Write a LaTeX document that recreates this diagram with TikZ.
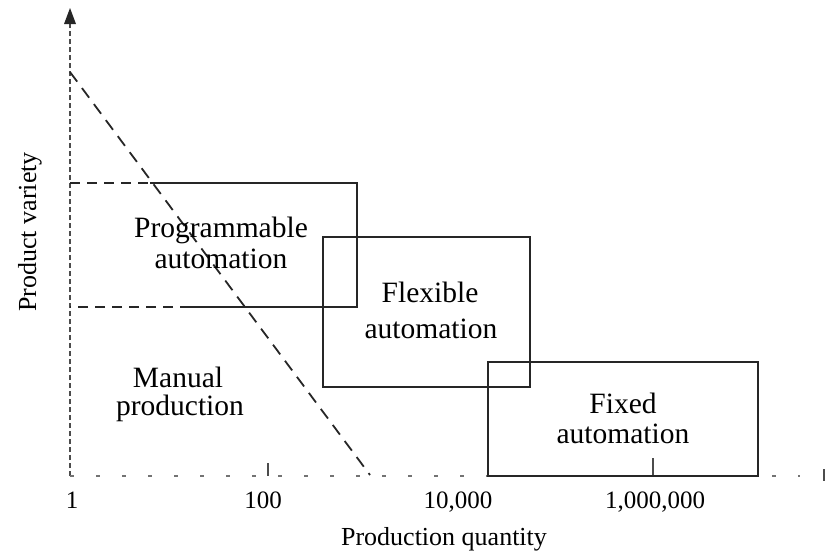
\documentclass[tikz,border=0pt]{standalone}
\usepackage{fontspec}
\setmainfont{Liberation Serif}
\usetikzlibrary{arrows.meta}
\tikzset{
  boxline/.style={line width=1.8pt, black!85},
  dashline/.style={line width=1.8pt, black!85, dash pattern=on 10pt off 7pt},
  yaxis/.style={line width=1.4pt, black!70, dash pattern=on 5pt off 3pt},
  xaxis/.style={line width=1.4pt, black!55, dash pattern=on 4pt off 22pt},
  boxtext/.style={font=\fontsize{29.5}{30}\selectfont, anchor=base, inner sep=0pt},
  ticktext/.style={font=\fontsize{25}{26}\selectfont, anchor=base, inner sep=0pt},
  axistext/.style={font=\fontsize{26}{27}\selectfont, anchor=base, inner sep=0pt},
}
\begin{document}
\begin{tikzpicture}[x=1pt, y=-1pt]
\useasboundingbox (0,0) rectangle (827,552);

% axes
\coordinate (O) at (70,476);
\coordinate (ytop) at (70,8);
\coordinate (xend) at (824,476);
\draw[yaxis] (O) -- (70,24);
\fill[black!85] (ytop) -- (64,24) -- (76,24) -- cycle;
\draw[xaxis] (O) -- (800,476);
\draw[line width=1.6pt, black!70] (824,469) -- (824,481);

% small tick marks
\draw[line width=1.2pt, black!70] (268,463) -- (268,476);
\draw[line width=1.2pt, black!70] (653,458) -- (653,476);

% programmable automation region (dashed towards the axis)
\coordinate (p1) at (70,183);
\coordinate (p2) at (357,183);
\coordinate (p3) at (357,307);
\coordinate (p4) at (70,307);
\draw[dashline] (p1) -- (150,183);
\draw[boxline] (150,183) -- (p2) -- (p3) -- (190,307);
\draw[dashline] (190,307) -- (p4);

% flexible automation region
\draw[boxline] (323,237) rectangle (530,387);

% fixed automation region
\draw[boxline] (488,362) rectangle (758,476);

% boundary of manual production
\coordinate (d1) at (70,72);
\coordinate (d2) at (370,475);
\draw[dashline, dash pattern=on 12pt off 8pt] (d1) -- (d2);

% region labels
\node[boxtext] (prog1) at (221,237) {Programmable};
\node[boxtext] (prog2) at (221,268) {automation};
\node[boxtext] (flex1) at (430,302) {Flexible};
\node[boxtext] (flex2) at (431,338) {automation};
\node[boxtext] (man1) at (178,387) {Manual};
\node[boxtext] (man2) at (180,415) {production};
\node[boxtext] (fix1) at (623,413) {Fixed};
\node[boxtext] (fix2) at (623,443) {automation};

% tick labels
\node[ticktext] (t1) at (72,508) {1};
\node[ticktext] (t2) at (263,508) {100};
\node[ticktext] (t3) at (458,508) {10,000};
\node[ticktext] (t4) at (655,508) {1,000,000};

% axis titles
\node[axistext] (xt) at (444,545) {Production quantity};
\node[axistext, rotate=90] (yt) at (36,232) {Product variety};
\end{tikzpicture}
\end{document}
